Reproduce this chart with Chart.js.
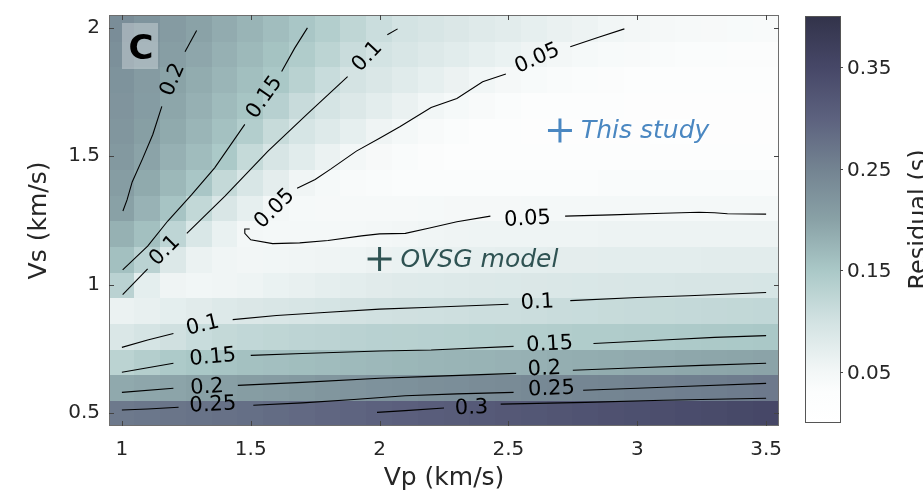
<!DOCTYPE html>
<html><head><meta charset="utf-8">
<script src="https://cdn.jsdelivr.net/npm/chart.js@4/dist/chart.umd.min.js"></script>
<style>html,body{margin:0;padding:0;background:#fff;}canvas{display:block}</style>
</head><body>
<canvas id="c" width="923" height="495"></canvas>
<script>
// ---------- DATA ----------
const vpValues = [1.0,1.1,1.2,1.3,1.4,1.5,1.6,1.7,1.8,1.9,2.0,2.1,2.2,2.3,2.4,2.5,2.6,2.7,2.8,2.9,3.0,3.1,3.2,3.3,3.4,3.5];
const vsValues = [0.5,0.6,0.7,0.8,0.9,1.0,1.1,1.2,1.3,1.4,1.5,1.6,1.7,1.8,1.9,2.0];
// residual (s), one row per Vs value, columns follow vpValues
const res050 = [0.264,0.267,0.270,0.274,0.277,0.280,0.284,0.288,0.292,0.296,0.300,0.303,0.307,0.310,0.314,0.317,0.320,0.323,0.327,0.330,0.333,0.336,0.340,0.343,0.347,0.350];
const res060 = [0.190,0.193,0.196,0.200,0.203,0.206,0.210,0.214,0.218,0.221,0.225,0.227,0.230,0.232,0.235,0.237,0.240,0.242,0.245,0.247,0.250,0.253,0.256,0.258,0.261,0.264];
const res070 = [0.129,0.138,0.146,0.151,0.155,0.159,0.161,0.163,0.165,0.168,0.170,0.172,0.174,0.176,0.177,0.179,0.181,0.183,0.185,0.186,0.188,0.190,0.192,0.194,0.195,0.197];
const res080 = [0.088,0.095,0.103,0.112,0.118,0.121,0.124,0.126,0.128,0.130,0.132,0.133,0.134,0.135,0.137,0.138,0.139,0.140,0.142,0.143,0.144,0.145,0.146,0.148,0.149,0.150];
const res090 = [0.062,0.066,0.072,0.078,0.083,0.087,0.090,0.093,0.096,0.099,0.101,0.103,0.104,0.105,0.107,0.108,0.109,0.111,0.112,0.114,0.115,0.116,0.117,0.119,0.120,0.121];
const res100 = [0.130,0.072,0.056,0.053,0.054,0.058,0.063,0.067,0.071,0.074,0.078,0.080,0.082,0.084,0.085,0.086,0.087,0.088,0.089,0.090,0.091,0.091,0.092,0.093,0.093,0.094];
const res110 = [0.160,0.130,0.085,0.062,0.054,0.052,0.053,0.054,0.056,0.058,0.061,0.063,0.065,0.067,0.069,0.071,0.072,0.073,0.073,0.074,0.074,0.075,0.075,0.076,0.076,0.076];
const res120 = [0.180,0.160,0.125,0.089,0.065,0.050,0.047,0.047,0.048,0.048,0.050,0.052,0.054,0.056,0.057,0.058,0.058,0.058,0.058,0.059,0.059,0.059,0.059,0.059,0.059,0.059];
const res130 = [0.200,0.178,0.155,0.120,0.090,0.069,0.049,0.045,0.044,0.043,0.043,0.044,0.045,0.046,0.046,0.046,0.047,0.047,0.047,0.047,0.047,0.047,0.047,0.047,0.047,0.047];
const res140 = [0.207,0.189,0.171,0.152,0.118,0.091,0.073,0.054,0.045,0.040,0.037,0.035,0.034,0.034,0.034,0.035,0.035,0.035,0.035,0.036,0.036,0.036,0.036,0.036,0.036,0.036];
const res150 = [0.214,0.197,0.181,0.165,0.149,0.116,0.092,0.077,0.062,0.049,0.042,0.036,0.032,0.030,0.029,0.028,0.027,0.027,0.027,0.027,0.027,0.027,0.027,0.028,0.028,0.028];
const res160 = [0.219,0.204,0.189,0.174,0.159,0.139,0.114,0.094,0.082,0.069,0.056,0.047,0.040,0.034,0.030,0.027,0.025,0.024,0.023,0.023,0.023,0.022,0.022,0.023,0.023,0.024];
const res170 = [0.221,0.208,0.194,0.181,0.167,0.154,0.134,0.113,0.096,0.085,0.075,0.064,0.053,0.045,0.039,0.034,0.031,0.029,0.027,0.026,0.025,0.025,0.024,0.024,0.024,0.024];
const res180 = [0.224,0.210,0.198,0.186,0.174,0.162,0.150,0.131,0.112,0.097,0.088,0.079,0.070,0.061,0.053,0.046,0.041,0.037,0.034,0.032,0.030,0.029,0.028,0.028,0.027,0.027];
const res190 = [0.229,0.217,0.205,0.193,0.181,0.169,0.157,0.143,0.127,0.111,0.098,0.091,0.084,0.077,0.070,0.063,0.056,0.049,0.045,0.041,0.039,0.037,0.035,0.034,0.033,0.033];
const res200 = [0.234,0.222,0.210,0.199,0.187,0.176,0.164,0.152,0.139,0.124,0.110,0.098,0.093,0.087,0.081,0.076,0.070,0.064,0.059,0.053,0.049,0.046,0.044,0.042,0.041,0.040];
const residualRows = [res050,res060,res070,res080,res090,res100,res110,res120,res130,res140,res150,res160,res170,res180,res190,res200];

// contour polylines [Vp, Vs] (broken where labels sit)
const c030_a = [[1.99,0.503],[2.10,0.510],[2.25,0.520]];
const c030_b = [[2.47,0.535],[2.80,0.542],[3.10,0.550],[3.50,0.558]];
const c025_a = [[1.00,0.512],[1.10,0.516],[1.22,0.523]];
const c025_b = [[1.51,0.531],[1.70,0.540],[1.90,0.553],[2.10,0.568],[2.30,0.575],[2.52,0.581]];
const c025_c = [[2.79,0.589],[3.00,0.597],[3.20,0.605],[3.50,0.616]];
const c020_a = [[1.00,0.581],[1.20,0.597]];
const c020_b = [[1.45,0.608],[1.70,0.620],[2.00,0.636],[2.20,0.643],[2.53,0.655]];
const c020_c = [[2.75,0.667],[3.00,0.677],[3.25,0.686],[3.50,0.694]];
const c015_a = [[1.00,0.659],[1.10,0.677],[1.20,0.694]];
const c015_b = [[1.50,0.725],[1.70,0.732],[2.00,0.742],[2.20,0.746],[2.52,0.760]];
const c015_c = [[2.83,0.771],[3.10,0.785],[3.30,0.795],[3.50,0.802]];
const c010_a = [[1.00,0.756],[1.10,0.785],[1.20,0.810]];
const c010_b = [[1.43,0.864],[1.60,0.880],[1.80,0.893],[2.00,0.905],[2.20,0.912],[2.50,0.924]];
const c010_c = [[2.74,0.938],[3.00,0.950],[3.20,0.957],[3.50,0.970]];
const c005_a = [[1.496,1.217],[1.477,1.217],[1.477,1.200],[1.50,1.175],[1.585,1.160],[1.69,1.163],[1.80,1.172],[1.93,1.190],[2.00,1.198],[2.10,1.200],[2.19,1.220],[2.30,1.245],[2.43,1.267]];
const c005_b = [[2.72,1.267],[2.90,1.272],[3.10,1.278],[3.24,1.282],[3.30,1.280],[3.35,1.276],[3.50,1.275]];
const c005_c = [[1.68,1.376],[1.75,1.410],[1.81,1.450],[1.91,1.520],[2.00,1.570],[2.08,1.616],[2.20,1.690],[2.30,1.725],[2.40,1.790],[2.49,1.820]];
const c005_d = [[2.74,1.926],[2.85,1.963],[2.95,1.996]];
const c010_d = [[1.003,0.961],[1.10,1.062]];
const c010_e = [[1.252,1.200],[1.40,1.345],[1.566,1.519],[1.72,1.665],[1.876,1.810]];
const c010_f = [[2.03,1.973],[2.07,1.996]];
const c015_d = [[1.003,1.058],[1.10,1.150],[1.178,1.248],[1.27,1.350],[1.36,1.455],[1.477,1.624]];
const c015_e = [[1.62,1.830],[1.67,1.920],[1.72,2.000]];
const c020_d = [[1.004,1.287],[1.02,1.330],[1.04,1.400],[1.08,1.490],[1.12,1.585],[1.155,1.694]];
const c020_e = [[1.245,1.907],[1.29,1.990]];
const contourSegments = [c030_a,c030_b,c025_a,c025_b,c025_c,c020_a,c020_b,c020_c,c015_a,c015_b,c015_c,
  c010_a,c010_b,c010_c,c005_a,c005_b,c005_c,c005_d,c010_d,c010_e,c010_f,c015_d,c015_e,c020_d,c020_e];

// contour labels: text, Vp, Vs, angle (deg)
const contourLabels = [
  ['0.2',1.198,1.798,-67],['0.15',1.554,1.729,-55],['0.1',1.953,1.888,-47],['0.05',2.612,1.880,-24],
  ['0.05',1.593,1.295,-45],['0.1',1.167,1.132,-45],['0.05',2.574,1.255,-3],
  ['0.1',1.314,0.841,-13],['0.15',1.353,0.717,-5],['0.2',1.330,0.600,-4],['0.25',1.353,0.531,-3],
  ['0.1',2.612,0.930,-3],['0.15',2.660,0.767,-3],['0.2',2.640,0.671,-3],['0.25',2.667,0.593,-2],['0.3',2.357,0.519,-2]
];
const studyPoint = [2.7,1.6];
const ovsgPoint = [2.0,1.1];
const xTickValues = [1,1.5,2,2.5,3,3.5];
const yTickValues = [0.5,1,1.5,2];
const cbarTickValues = [0.05,0.15,0.25,0.35];
const cbarRange = [0,0.4];

// ---------- STYLE ----------
const FONT = "'DejaVu Sans', sans-serif";
const cmap = [[0.00,255,255,255],[0.03,252,253,253],[0.05,243,247,247],[0.10,210,226,226],[0.15,170,200,199],
  [0.20,137,161,166],[0.25,115,131,145],[0.30,92,97,126],[0.35,70,71,103],[0.40,50,51,74]];
function colorFor(v){
  if (v<=cmap[0][0]) return `rgb(${cmap[0][1]},${cmap[0][2]},${cmap[0][3]})`;
  for (let i=1;i<cmap.length;i++){
    if (v<=cmap[i][0]){
      const a=cmap[i-1], b=cmap[i], t=(v-a[0])/(b[0]-a[0]);
      return `rgb(${Math.round(a[1]+(b[1]-a[1])*t)},${Math.round(a[2]+(b[2]-a[2])*t)},${Math.round(a[3]+(b[3]-a[3])*t)})`;
    }
  }
  const l=cmap[cmap.length-1]; return `rgb(${l[1]},${l[2]},${l[3]})`;
}

const heatmapPlugin = {
  id:'heatmap',
  beforeDatasetsDraw(chart){
    const {ctx, chartArea:a, scales:{x,y}} = chart;
    ctx.save();
    ctx.beginPath(); ctx.rect(a.left,a.top,a.right-a.left,a.bottom-a.top); ctx.clip();
    const hx = (vpValues[1]-vpValues[0])/2, hy = (vsValues[1]-vsValues[0])/2;
    residualRows.forEach((row,j)=>{
      const vs = vsValues[j];
      row.forEach((v,i)=>{
        const vp = vpValues[i];
        const x0 = x.getPixelForValue(vp-hx), x1 = x.getPixelForValue(vp+hx);
        const y0 = y.getPixelForValue(vs+hy), y1 = y.getPixelForValue(vs-hy);
        ctx.fillStyle = colorFor(v);
        ctx.fillRect(Math.floor(x0), Math.floor(y0), Math.ceil(x1-x0)+1, Math.ceil(y1-y0)+1);
      });
    });
    ctx.restore();
  }
};

const overlayPlugin = {
  id:'overlay',
  afterDatasetsDraw(chart){
    const {ctx, chartArea:a, scales:{x,y}} = chart;
    ctx.save();
    ctx.fillStyle = '#000';
    ctx.font = `21px ${FONT}`;
    ctx.textAlign='center'; ctx.textBaseline='middle';
    contourLabels.forEach(([t,vp,vs,ang])=>{
      ctx.save();
      ctx.translate(x.getPixelForValue(vp), y.getPixelForValue(vs));
      ctx.rotate(ang*Math.PI/180);
      ctx.fillText(t,0,0);
      ctx.restore();
    });
    ctx.font = `italic 25px ${FONT}`;
    ctx.textAlign='left';
    ctx.fillStyle = '#4a87c1';
    ctx.fillText('This study', x.getPixelForValue(studyPoint[0])+21, y.getPixelForValue(studyPoint[1])+1);
    ctx.fillStyle = '#2f5353';
    ctx.fillText('OVSG model', x.getPixelForValue(ovsgPoint[0])+21, y.getPixelForValue(ovsgPoint[1])+1);
    ctx.fillStyle = 'rgba(255,255,255,0.3)';
    ctx.fillRect(a.left+13, a.top+8, 36, 46);
    ctx.fillStyle = '#000';
    ctx.font = `bold 34px ${FONT}`;
    ctx.textAlign='center'; ctx.textBaseline='alphabetic';
    ctx.fillText('C', a.left+32, a.top+44);
    ctx.strokeStyle = '#6e6e6e'; ctx.lineWidth = 1;
    ctx.strokeRect(a.left+0.5, a.top+0.5, a.right-a.left-1, a.bottom-a.top-1);
    ctx.strokeStyle = '#444'; ctx.beginPath();
    xTickValues.forEach(v=>{ const px=Math.round(x.getPixelForValue(v))+0.5;
      ctx.moveTo(px,a.bottom); ctx.lineTo(px,a.bottom-5); ctx.moveTo(px,a.top); ctx.lineTo(px,a.top+5); });
    yTickValues.forEach(v=>{ const py=Math.round(y.getPixelForValue(v))+0.5;
      ctx.moveTo(a.left,py); ctx.lineTo(a.left+5,py); ctx.moveTo(a.right,py); ctx.lineTo(a.right-5,py); });
    ctx.stroke();
    ctx.restore();
  },
  afterDraw(chart){
    const {ctx, chartArea:a} = chart;
    const left = a.right+26, w = 36, top = a.top+1, bottom = a.top+408;
    const pix = v => bottom - (v-cbarRange[0])/(cbarRange[1]-cbarRange[0])*(bottom-top);
    ctx.save();
    const g = ctx.createLinearGradient(0,bottom,0,top);
    cmap.forEach(s=>g.addColorStop((s[0]-cbarRange[0])/(cbarRange[1]-cbarRange[0]), `rgb(${s[1]},${s[2]},${s[3]})`));
    ctx.fillStyle = g; ctx.fillRect(left, top, w, bottom-top);
    ctx.strokeStyle = '#555'; ctx.lineWidth=1;
    ctx.strokeRect(left+0.5, top+0.5, w-1, bottom-top-1);
    ctx.fillStyle = '#262626'; ctx.font = `20px ${FONT}`;
    ctx.textAlign='left'; ctx.textBaseline='middle';
    ctx.beginPath();
    cbarTickValues.forEach(v=>{ const py=Math.round(pix(v))+0.5;
      ctx.moveTo(left+w-1,py); ctx.lineTo(left+w+2,py);
      ctx.fillText(String(v), left+w+6, py+1); });
    ctx.strokeStyle='#444'; ctx.stroke();
    ctx.translate(a.right+147, (top+bottom)/2);
    ctx.rotate(-Math.PI/2);
    ctx.font = `24px ${FONT}`; ctx.textAlign='center'; ctx.textBaseline='alphabetic';
    ctx.fillText('Residual (s)', 0, 0);
    ctx.restore();
  }
};

// ---------- CHART ----------
const datasets = contourSegments.map(seg=>({
  data: seg.map(p=>({x:p[0], y:p[1]})),
  showLine:true, borderColor:'#000', borderWidth:1.1, pointRadius:0, fill:false, tension:0
}));
datasets.push({data:[{x:studyPoint[0],y:studyPoint[1]}], pointStyle:'cross', pointRadius:12, borderWidth:3, borderColor:'#4a87c1', backgroundColor:'#4a87c1'});
datasets.push({data:[{x:ovsgPoint[0],y:ovsgPoint[1]}], pointStyle:'cross', pointRadius:12, borderWidth:3, borderColor:'#2f5353', backgroundColor:'#2f5353'});

new Chart(document.getElementById('c'), {
  type:'scatter',
  data:{datasets},
  options:{
    responsive:false, animation:false,
    layout:{padding:{left:0, top:14, right:144, bottom:0}},
    plugins:{legend:{display:false}, tooltip:{enabled:false}},
    events:[],
    scales:{
      x:{type:'linear', min:0.95, max:3.55,
        afterBuildTicks:s=>{ s.ticks = xTickValues.map(v=>({value:v})); },
        afterFit:s=>{ s.height = 69; s.paddingLeft = 0; s.paddingRight = 0; },
        grid:{display:false, drawTicks:false}, border:{display:false},
        ticks:{autoSkip:false, maxRotation:0, padding:12, color:'#262626', font:{family:FONT, size:20}, callback:v=>String(v)},
        title:{display:true, text:'Vp (km/s)', color:'#262626', font:{family:FONT, size:25, lineHeight:1.2}, padding:{top:0,bottom:2}}
      },
      y:{type:'linear', min:0.45, max:2.05,
        afterBuildTicks:s=>{ s.ticks = yTickValues.map(v=>({value:v})); },
        afterFit:s=>{ s.width = 109; s.paddingTop = 0; s.paddingBottom = 0; },
        grid:{display:false, drawTicks:false}, border:{display:false},
        ticks:{autoSkip:false, padding:9, color:'#262626', font:{family:FONT, size:20}, callback:v=>String(v)},
        title:{display:true, text:'Vs (km/s)', color:'#262626', font:{family:FONT, size:25, lineHeight:1.2}, padding:{top:24,bottom:0}}
      }
    }
  },
  plugins:[heatmapPlugin, overlayPlugin]
});
</script></body></html>
